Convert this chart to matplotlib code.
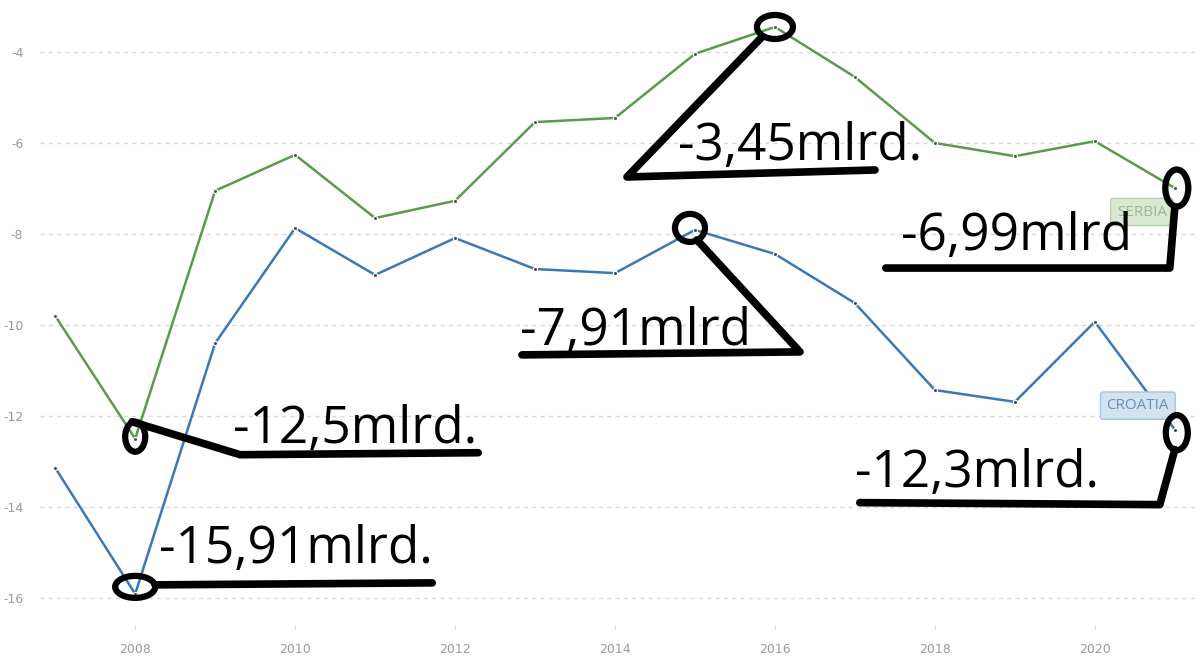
import numpy as np
import matplotlib
matplotlib.use('Agg')
from matplotlib import pyplot as plt
from matplotlib import transforms as mtransforms
from matplotlib.patches import Ellipse

years = list(range(2007, 2022))
serbia = [-9.80, -12.5, -7.05, -6.26, -7.65, -7.27, -5.54, -5.45,
          -4.04, -3.45, -4.55, -6.00, -6.29, -5.96, -6.99]
croatia = [-13.14, -15.91, -10.40, -7.87, -8.90, -8.09, -8.77, -8.86,
           -7.91, -8.44, -9.52, -11.43, -11.69, -9.93, -12.30]
yticks = [-16, -14, -12, -10, -8, -6, -4]
xticks = [2008, 2010, 2012, 2014, 2016, 2018, 2020]

# callouts: (series, year, label)
callouts = [
    ('serbia', 2008, '-12,5mlrd.'),
    ('croatia', 2008, '-15,91mlrd.'),
    ('serbia', 2016, '-3,45mlrd.'),
    ('croatia', 2015, '-7,91mlrd'),
    ('serbia', 2021, '-6,99mlrd'),
    ('croatia', 2021, '-12,3mlrd.'),
]

GREEN = '#5b9a4c'
BLUE = '#3a79b4'

fig = plt.figure(figsize=(11.98, 6.57), dpi=100)
ax = fig.add_axes([0.0334, 0.049, 0.9666, 0.951])

ax.plot(years, serbia, color=GREEN, lw=1.8, marker='o', ms=3,
        mfc='#4d5a50', mec='white', mew=0.8, zorder=3)
ax.plot(years, croatia, color=BLUE, lw=1.8, marker='o', ms=3,
        mfc='#3d4b5c', mec='white', mew=0.8, zorder=3)

ax.set_xlim(2006.81, 2021.29)
ax.set_ylim(-16.59, -2.857)
ax.set_yticks(yticks)
ax.set_xticks(xticks)
ax.set_yticklabels([str(v) for v in yticks])
ax.tick_params(axis='y', length=0, pad=12, labelsize=9, labelcolor='#9a9a9a')
ax.tick_params(axis='x', length=3, width=0.6, color='#cccccc', pad=10,
               labelsize=9, labelcolor='#9a9a9a')
for s in ax.spines.values():
    s.set_visible(False)
ax.yaxis.grid(True, ls=(0, (3, 3)), color='#d8d8d8', lw=1)
ax.set_axisbelow(True)

series = {'serbia': serbia, 'croatia': croatia}

# hand-drawn callout shapes in pixel offsets (image y down) from the point
shapes = {
    '-12,5mlrd.': dict(ell=(0, -2, 20, 30), path=[(-3, -17), (105, 16), (343, 14)], txt=(98, 4)),
    '-15,91mlrd.': dict(ell=(0, -7, 40, 22), path=[(20, -9), (297, -11)], txt=(24, -31)),
    '-3,45mlrd.': dict(ell=(0, 0, 36, 24), path=[(-13, 10), (-148, 150), (100, 143)], txt=(-97, 133)),
    '-7,91mlrd': dict(ell=(-5, -2, 30, 28), path=[(2, 10), (105, 122), (-173, 125)], txt=(-175, 115)),
    '-6,99mlrd': dict(ell=(2, 0, 23, 37), path=[(0, 19), (-5, 80), (-289, 80)], txt=(-274, 62)),
    '-12,3mlrd.': dict(ell=(2, 3, 22, 35), path=[(0, 20), (-15, 75), (-315, 73)], txt=(-320, 57)),
}

for name, yr, label in callouts:
    yv = series[name][years.index(yr)]
    sh = shapes[label]
    base = (mtransforms.Affine2D().scale(1 / fig.dpi, -1 / fig.dpi)
            + fig.dpi_scale_trans
            + mtransforms.ScaledTranslation(yr, yv, ax.transData))
    ex, ey, ew, eh = sh['ell']
    ax.add_patch(Ellipse((ex, ey), ew, eh, transform=base, fill=False,
                         lw=4.5, ec='black', zorder=5, clip_on=False))
    px = [p[0] for p in sh['path']]
    py = [p[1] for p in sh['path']]
    ax.plot(px, py, transform=base, color='black', lw=5.5,
            solid_capstyle='round', solid_joinstyle='round', zorder=5, clip_on=False)
    tx, ty = sh['txt']
    ax.text(tx, ty, label, transform=base, fontsize=37, family='Open Sans',
            ha='left', va='baseline', color='black', zorder=6, clip_on=False)

# series name tags near the last points
tags = [('SERBIA', serbia[-1], (-33, 24), '#9ab894', '#d8e8d2', '#b8d2b0'),
        ('CROATIA', croatia[-1], (-37, -24), '#6d8fb3', '#d3e2f1', '#a8c3de')]
for txt, yv, (dx, dy), tc, fc, ec in tags:
    base = (mtransforms.Affine2D().scale(1 / fig.dpi, -1 / fig.dpi)
            + fig.dpi_scale_trans
            + mtransforms.ScaledTranslation(years[-1], yv, ax.transData))
    ax.text(dx, dy, txt, transform=base, fontsize=11, family='Open Sans',
            ha='center', va='center', color=tc, zorder=4,
            bbox=dict(boxstyle='round,pad=0.4,rounding_size=0.15',
                      fc=fc, ec=ec, lw=1))

fig.savefig('out.png', dpi=100)
